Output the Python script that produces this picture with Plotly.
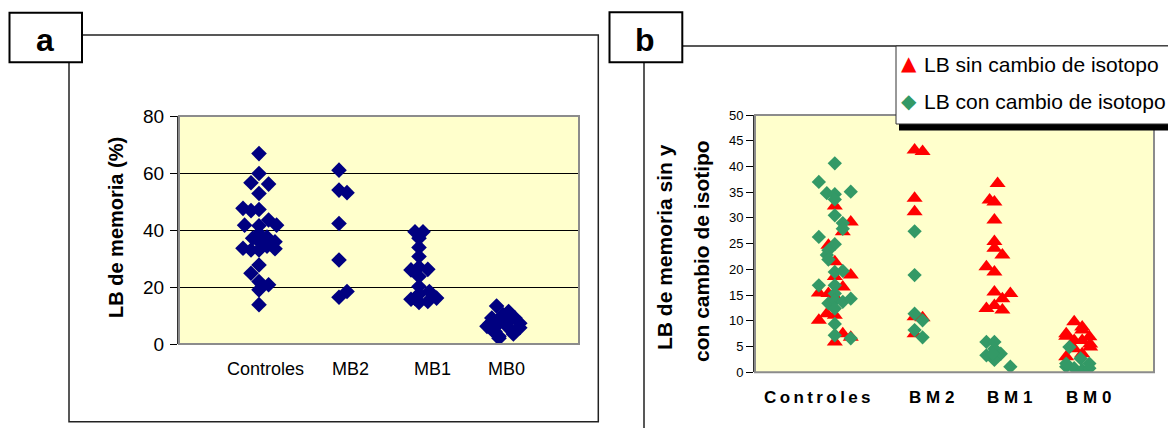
import plotly.graph_objects as go

W, H = 1168, 428

# ---------------- data ----------------
# Panel a: categories and LB de memoria (%) per group; jitter = horizontal offset in category units
cats_a = ["Controles", "MB2", "MB1", "MB0"]
ctrl_a = [66.8, 59.8, 56.6, 56.1, 52.8, 47.6, 46.8, 47.2, 43.5, 41.7, 41.7, 41.5, 38.8, 37.1,
          37.5, 35.9, 36.0, 33.6, 33.0, 34.3, 33.4, 33.0, 27.7, 24.8, 21.9, 20.8, 19.0, 13.8]
ctrl_a_jit = [0, 0, -0.1, 0.12, 0, -0.2, -0.1, 0, 0.12, 0.22, -0.18, 0, 0, -0.08,
              0.1, 0.2, 0, -0.2, 0, 0.1, 0.2, -0.1, 0, -0.1, 0, 0.12, 0, 0]
mb2_a = [61.0, 54.0, 53.1, 42.3, 29.5, 18.4, 16.4]
mb2_a_jit = [0, 0, 0.1, 0, 0, 0.1, 0]
mb1_a = [39.4, 39.4, 37.1, 33.9, 30.7, 26.0, 26.2, 27.0, 23.7, 20.2, 15.7, 14.6, 14.9, 16.1, 18.4, 17.5, 16.0]
mb1_a_jit = [-0.05, 0.05, 0, 0, 0, -0.1, 0.11, 0, 0, 0, -0.1, 0, 0.11, 0.22, 0.13, 0, -0.05]
mb0_a = [13.3, 11.4, 9.1, 9.1, 7.3, 5.0, 7.3, 6.2, 5.0, 2.7, 2.0, 7.3, 8.4, 10.3, 4.4, 3.5, 6.2, 5.7]
mb0_a_jit = [-0.03, 0.12, 0.2, -0.09, 0.26, -0.09, 0, 0.1, 0.22, 0, 0, -0.11, 0.14, 0.05, -0.05, 0.18, -0.15, 0.26]

# Panel b: LB sin cambio (red) / con cambio (green) de isotipo
cats_b = ["Controles", "BM2", "BM1", "BM0"]
sin_ctrl = [32.3, 29.2, 27.3, 24.7, 21.5, 18.9, 18.6, 16.6, 15.4, 15.3, 14.7, 11.4, 11.1, 10.1, 7.5, 5.9, 6.8]
sin_ctrl_jit = [0, 0.2, 0.1, -0.08, 0, 0.2, 0, 0.1, -0.2, -0.08, 0, -0.1, 0, -0.2, 0.1, 0, 0.2]
sin_bm2 = [43.2, 42.9, 33.8, 31.2, 10.8, 10.6, 7.5]
sin_bm2_jit = [0, 0.1, 0, 0, 0, 0.1, 0]
sin_bm1 = [36.7, 33.5, 33.1, 29.6, 25.4, 24.1, 22.8, 20.5, 19.5, 15.6, 14.3, 15.3, 12.4, 13.0, 12.1]
sin_bm1_jit = [0.04, -0.06, 0, 0, 0, 0, 0.1, -0.1, 0, 0, 0.1, 0.2, -0.1, 0, 0.1]
sin_bm0 = [9.8, 7.5, 8.2, 6.9, 6.2, 6.2, 4.9, 3.0, 4.6, 3.6, 7.0, 5.5, 8.8]
sin_bm0_jit = [0, -0.1, 0.1, 0.19, 0, 0.1, 0.2, -0.1, 0, 0.1, -0.1, 0.2, 0.1]

con_ctrl = [40.6, 37.0, 34.8, 34.6, 33.6, 35.1, 30.5, 29.0, 27.9, 26.3, 24.9, 23.7, 22.8, 21.9,
            19.5, 19.7, 16.9, 16.9, 15.3, 13.4, 14.0, 13.7, 14.3, 12.4, 9.4, 7.2, 6.6]
con_ctrl_jit = [0, -0.2, -0.1, 0, 0, 0.2, 0, 0.1, 0.1, -0.2, 0, -0.08, -0.1, -0.08,
                0, 0.1, -0.2, 0, 0, -0.08, 0, 0.1, 0.2, 0, 0, 0, 0.2]
con_bm2 = [27.4, 18.9, 11.4, 10.1, 8.2, 6.8]
con_bm2_jit = [0, 0, 0, 0.1, 0, 0.1]
con_bm1 = [5.9, 5.9, 4.6, 3.6, 3.3, 2.4, 1.1, 3.6]
con_bm1_jit = [-0.1, 0, 0, 0.08, -0.1, 0, 0.2, -0.02]
con_bm0 = [4.9, 2.7, 1.1, 0.8, 0.4, 0.8, 1.7, 1.7]
con_bm0_jit = [-0.06, 0.08, -0.1, 0, 0.1, 0.19, -0.1, 0.19]

legend_names = ["LB sin cambio de isotopo", "LB con cambio de isotopo"]

# ---------------- helpers ----------------
def px(x):
    return x / W

def py(y):
    return 1 - y / H

def xs(idx, jit):
    return [idx + 1 + j for j in jit]

FONT = "Liberation Sans, Arial, sans-serif"
NAVY = "#000080"
RED = "#FF0000"
GREEN = "#339966"
PLOTBG = "#FFFFCC"

fig = go.Figure()

# panel a
groups_a = [(ctrl_a, ctrl_a_jit), (mb2_a, mb2_a_jit), (mb1_a, mb1_a_jit), (mb0_a, mb0_a_jit)]
for i, (vals, jit) in enumerate(groups_a):
    fig.add_trace(go.Scatter(x=xs(i, jit), y=vals, mode="markers", xaxis="x", yaxis="y",
                             marker=dict(symbol="diamond", size=12, color=NAVY, line=dict(width=0)),
                             showlegend=False, hoverinfo="skip"))

# panel b: red then green
groups_sin = [(sin_ctrl, sin_ctrl_jit), (sin_bm2, sin_bm2_jit), (sin_bm1, sin_bm1_jit), (sin_bm0, sin_bm0_jit)]
groups_con = [(con_ctrl, con_ctrl_jit), (con_bm2, con_bm2_jit), (con_bm1, con_bm1_jit), (con_bm0, con_bm0_jit)]
for i, (vals, jit) in enumerate(groups_sin):
    fig.add_trace(go.Scatter(x=xs(i, jit), y=vals, mode="markers", xaxis="x2", yaxis="y2",
                             name=legend_names[0],
                             marker=dict(symbol="triangle-up", size=14, color=RED, line=dict(width=0)),
                             showlegend=False, hoverinfo="skip"))
for i, (vals, jit) in enumerate(groups_con):
    fig.add_trace(go.Scatter(x=xs(i, jit), y=vals, mode="markers", xaxis="x2", yaxis="y2",
                             name=legend_names[1],
                             marker=dict(symbol="diamond", size=11, color=GREEN, line=dict(width=0)),
                             showlegend=False, hoverinfo="skip"))

# plot areas (pixels)
A_L, A_R, A_T, A_B = 179, 579, 116, 344
B_L, B_R, B_T, B_B = 755, 1154, 115, 372.3

axis_common = dict(showgrid=False, zeroline=False, fixedrange=True)
fig.update_layout(
    width=W, height=H,
    margin=dict(l=0, r=0, t=0, b=0, autoexpand=False),
    paper_bgcolor="white",
    plot_bgcolor=PLOTBG,
    font=dict(family=FONT, color="black"),
    showlegend=False,
    xaxis=dict(domain=[px(A_L), px(A_R)], range=[0, 5], showticklabels=False, ticks="",
               showline=False, **axis_common),
    yaxis=dict(domain=[py(A_B), py(A_T)], range=[0, 80], dtick=20, tick0=0,
               showgrid=True, gridcolor="black", gridwidth=1, zeroline=False, fixedrange=True,
               ticks="outside", ticklen=7, tickcolor="black", tickwidth=1,
               tickfont=dict(size=19, family=FONT, color="black"),
               showline=True, linecolor="#333333", linewidth=2, ticklabelstandoff=2),
    xaxis2=dict(domain=[px(B_L), px(B_R)], range=[0, 5], showticklabels=False, ticks="",
                showline=False, anchor="y2", **axis_common),
    yaxis2=dict(domain=[py(B_B), py(B_T)], range=[0, 50], dtick=5, tick0=0, anchor="x2",
                ticks="outside", ticklen=7, tickcolor="black", tickwidth=1,
                tickfont=dict(size=13, family=FONT, color="black"),
                showline=True, linecolor="#333333", linewidth=2, **axis_common),
)

shapes = []
# plot area borders (gray)
for xr, yr in [("x", "y"), ("x2", "y2")]:
    shapes.append(dict(type="rect", xref=xr + " domain", yref=yr + " domain", x0=0, x1=1, y0=0, y1=1,
                       line=dict(color="#8C8C8C", width=2), fillcolor="rgba(0,0,0,0)", layer="above"))

# panel frames
shapes.append(dict(type="rect", xref="paper", yref="paper", x0=px(69), x1=px(598.3), y0=py(421.7), y1=py(35),
                   line=dict(color="#222222", width=1.5), fillcolor="rgba(0,0,0,0)", layer="above"))
shapes.append(dict(type="rect", xref="paper", yref="paper", x0=px(644), x1=px(1190), y0=py(460), y1=py(46),
                   line=dict(color="#222222", width=1.5), fillcolor="rgba(0,0,0,0)", layer="above"))
# label boxes
shapes.append(dict(type="rect", xref="paper", yref="paper", x0=px(9.5), x1=px(82), y0=py(62.3), y1=py(12.7),
                   line=dict(color="black", width=2), fillcolor="white", layer="above"))
shapes.append(dict(type="rect", xref="paper", yref="paper", x0=px(609.5), x1=px(682.3), y0=py(62.3), y1=py(12.3),
                   line=dict(color="black", width=2), fillcolor="white", layer="above"))
# legend shadow and box
shapes.append(dict(type="rect", xref="paper", yref="paper", x0=px(899), x1=px(1190), y0=py(130.5), y1=py(120),
                   line=dict(width=0), fillcolor="black", layer="above"))
shapes.append(dict(type="rect", xref="paper", yref="paper", x0=px(896), x1=px(1190), y0=py(124), y1=py(46),
                   line=dict(color="#333333", width=1), fillcolor="white", layer="above"))
fig.update_layout(shapes=shapes)

ann = []
# panel letters
ann.append(dict(text="<b>a</b>", x=px(45), y=py(40), xref="paper", yref="paper", showarrow=False,
                font=dict(size=32, family=FONT, color="black"), xanchor="center", yanchor="middle"))
ann.append(dict(text="<b>b</b>", x=px(645), y=py(40), xref="paper", yref="paper", showarrow=False,
                font=dict(size=32, family=FONT, color="black"), xanchor="center", yanchor="middle"))
# axis titles
ann.append(dict(text="<b>LB de memoria (%)</b>", x=px(116), y=py(228), xref="paper", yref="paper",
                showarrow=False, textangle=-90, font=dict(size=20, family=FONT, color="black"),
                xanchor="center", yanchor="middle"))
ann.append(dict(text="<b>LB de memoria sin y</b>", x=px(664), y=py(247), xref="paper", yref="paper",
                showarrow=False, textangle=-90, font=dict(size=21, family=FONT, color="black"),
                xanchor="center", yanchor="middle"))
ann.append(dict(text="<b>con cambio de isotipo</b>", x=px(701), y=py(251), xref="paper", yref="paper",
                showarrow=False, textangle=-90, font=dict(size=21, family=FONT, color="black"),
                xanchor="center", yanchor="middle"))
# category labels panel a
shift_a = [6, 11, 13, 7]
for i, c in enumerate(cats_a):
    ann.append(dict(text=c, x=i + 1, y=py(369), xref="x", yref="paper", xshift=shift_a[i], showarrow=False,
                    font=dict(size=18, family=FONT, color="black"), xanchor="center", yanchor="middle"))
# category labels panel b (letter-spaced bold)
shift_b = [-17, 17, 15, 14]
for i, c in enumerate(cats_b):
    spaced = "\u2009".join(c) if len(c) > 3 else " ".join(c)
    ann.append(dict(text="<b>" + spaced + "</b>", x=i + 1, y=py(397), xref="x2", yref="paper",
                    xshift=shift_b[i], showarrow=False,
                    font=dict(size=17, family=FONT, color="black"), xanchor="center", yanchor="middle"))
# legend entries
ann.append(dict(text="\u25B2", x=px(909), y=py(63), xref="paper", yref="paper", showarrow=False,
                font=dict(size=20, family="DejaVu Sans", color=RED), xanchor="center", yanchor="middle"))
ann.append(dict(text="\u25C6", x=px(909), y=py(101), xref="paper", yref="paper", showarrow=False,
                font=dict(size=20, family="DejaVu Sans", color=GREEN), xanchor="center", yanchor="middle"))
for name, yy in zip(legend_names, [64, 101.5]):
    ann.append(dict(text=name, x=px(922), y=py(yy), xref="paper", yref="paper", showarrow=False,
                    font=dict(size=21, family=FONT, color="black"), xanchor="left", yanchor="middle"))
fig.update_layout(annotations=ann)

fig.write_html("out.html", config={"displayModeBar": False},
               post_script="document.body.style.margin='0';document.body.style.overflow='hidden';")
